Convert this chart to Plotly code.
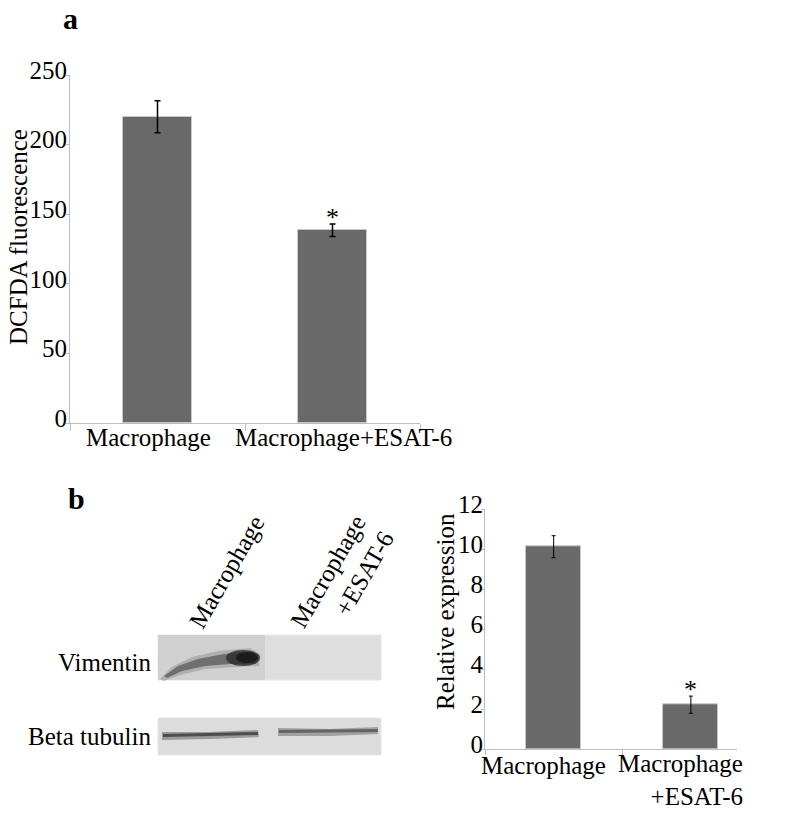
import plotly.graph_objects as go

# panel a: DCFDA fluorescence
groups_a = ["Macrophage", "Macrophage+ESAT-6"]
dcfda = [220, 138.5]
dcfda_err = [11.5, 4.5]

# panel b: vimentin relative expression
groups_b = ["Macrophage", "Macrophage+ESAT-6"]
labels_b = ["Macrophage", "Macrophage<br>+ESAT-6"]
rel_expr = [10.13, 2.23]
rel_err = [0.55, 0.43]

W, H = 787, 839
FONT = "Liberation Serif"
BAR = "#696969"
AX = "#bdbdbd"


def px(x):
    return x / W


def py(y):
    return 1 - y / H


fig = go.Figure()

fig.add_trace(go.Bar(
    x=groups_a, y=dcfda, width=0.39,
    marker=dict(color=BAR, line=dict(color="#c8c8c8", width=1)),
    error_y=dict(type="data", array=dcfda_err, color="black", thickness=1.5, width=3),
    xaxis="x", yaxis="y"))

fig.add_trace(go.Bar(
    x=groups_b, y=rel_expr, width=0.40,
    marker=dict(color=BAR, line=dict(color="#c8c8c8", width=1)),
    error_y=dict(type="data", array=rel_err, color="black", thickness=1, width=2),
    xaxis="x2", yaxis="y2"))

axis_common = dict(showgrid=False, zeroline=False, showline=True, linecolor=AX, linewidth=1,
                   ticks="outside", tickcolor=AX, ticklen=4, automargin=False,
                   tickfont=dict(family=FONT, size=25, color="black"))

fig.update_layout(
    width=W, height=H,
    margin=dict(l=0, r=0, t=0, b=0),
    paper_bgcolor="white", plot_bgcolor="rgba(0,0,0,0)",
    showlegend=False, bargap=0,
    font=dict(family=FONT, color="black"),
    xaxis=dict(axis_common, domain=[px(70), px(420)], anchor="y", type="category",
               range=[-0.5, 1.5], tickson="boundaries", ticklen=7, showticklabels=False),
    yaxis=dict(axis_common, domain=[py(423), py(75)], anchor="x", range=[0, 250],
               tickvals=[0, 50, 100, 150, 200, 250], ticklen=3,
               ticklabelshift=-5, ticklabelstandoff=-6),
    xaxis2=dict(axis_common, domain=[px(485), px(737)], anchor="y2", type="category",
                range=[-0.5, 1.336], tickson="boundaries", ticklen=5, showticklabels=False),
    yaxis2=dict(axis_common, domain=[py(749.3), py(509.3)], anchor="x2", range=[0, 12],
                tickvals=[0, 2, 4, 6, 8, 10, 12], ticklen=3,
                ticklabelshift=-5, ticklabelstandoff=-7),
)


def note(text, x, y, size=25, **kw):
    d = dict(x=x, y=y, xref="paper", yref="paper", text=text, showarrow=False,
             xanchor="center", yanchor="middle", font=dict(size=size, family=FONT))
    d.update(kw)
    return d


ann = []
# panel letters
ann.append(note("<b>a</b>", px(70), 1, size=30, yanchor="top"))
ann.append(note("<b>b</b>", px(76), py(498), size=30))
# axis titles
ann.append(note("DCFDA fluorescence", px(18), py(237), textangle=-90))
ann.append(note("Relative expression", px(445), py(612), textangle=-90))
# category labels placed on the category axes
ann.append(note(groups_a[0], groups_a[0], 0, xref="x", yref="y", xshift=-9, yshift=-14))
ann.append(note(groups_a[1], groups_a[1], 0, xref="x", yref="y", xshift=11, yshift=-14))
ann.append(note(labels_b[0], groups_b[0], 0, xref="x2", yref="y2", xshift=-10, yshift=-16))
ann.append(note(labels_b[1], groups_b[1], 0, xref="x2", yref="y2", xanchor="right",
                align="right", xshift=54, yshift=-31))
# significance stars
ann.append(note("*", groups_a[1], dcfda[1] + dcfda_err[1], xref="x", yref="y", size=26,
                yanchor="bottom", yshift=-10))
ann.append(note("*", groups_b[1], rel_expr[1] + rel_err[1], xref="x2", yref="y2", size=26,
                yanchor="bottom", yshift=-10))
# western blot labels
ann.append(note("Vimentin", px(153), py(662), xanchor="right"))
ann.append(note("Beta tubulin", px(153), py(736), xanchor="right"))
ann.append(note("Macrophage", px(226), py(572), textangle=-60))
ann.append(note("Macrophage<br>+ESAT-6", px(342), py(580), textangle=-60, align="right"))
fig.update_layout(annotations=ann)

# western blot membranes and bands (illustration)
shapes = []


def rect(x0, y0, x1, y1, color, line=None):
    shapes.append(dict(type="rect", xref="paper", yref="paper",
                       x0=px(x0), x1=px(x1), y0=py(y1), y1=py(y0),
                       fillcolor=color, line=dict(width=0 if line is None else 1, color=line or color)))


def path(points, color, opacity=1.0):
    d = "M " + " L ".join(f"{px(x):.5f},{py(y):.5f}" for x, y in points) + " Z"
    shapes.append(dict(type="path", xref="paper", yref="paper", path=d,
                       fillcolor=color, opacity=opacity, line=dict(width=0)))


def ellipse(x0, y0, x1, y1, color, opacity=1.0):
    shapes.append(dict(type="circle", xref="paper", yref="paper",
                       x0=px(x0), x1=px(x1), y0=py(y1), y1=py(y0),
                       fillcolor=color, opacity=opacity, line=dict(width=0)))


# vimentin membrane
rect(158, 635, 381, 680, "#dedede", "#e8e8e8")
rect(158, 635, 265, 680, "#d0d0d0")
# vimentin smear band
path([(160, 679), (172, 667), (192, 657), (218, 651), (250, 648), (260, 654),
      (259, 666), (235, 667), (205, 669), (180, 675), (164, 681)], "#9a9a9a", 0.6)
path([(164, 676), (178, 666), (198, 659), (224, 654), (252, 651), (258, 657),
      (256, 664), (230, 664), (205, 666), (182, 671), (167, 678)], "#5a5a5a", 0.75)
ellipse(226, 650, 260, 666, "#2a2a2a", 0.8)
ellipse(236, 652, 258, 663, "#111111", 0.7)

# beta tubulin membrane
rect(158, 718, 381, 755, "#dcdcdc", "#e6e6e6")
path([(162, 732), (210, 732), (258, 730), (259, 737), (210, 739), (162, 740)], "#8a8a8a", 0.8)
path([(163, 734), (258, 732), (258, 735), (163, 737)], "#3a3a3a", 0.8)
path([(278, 728), (330, 729), (378, 727), (378, 734), (330, 736), (278, 736)], "#8e8e8e", 0.75)
path([(279, 730), (378, 729), (378, 732), (279, 733)], "#4a4a4a", 0.7)

fig.update_layout(shapes=shapes)

fig.write_html("out.html", config={"displayModeBar": False},
               post_script="document.body.style.margin='0px';")
